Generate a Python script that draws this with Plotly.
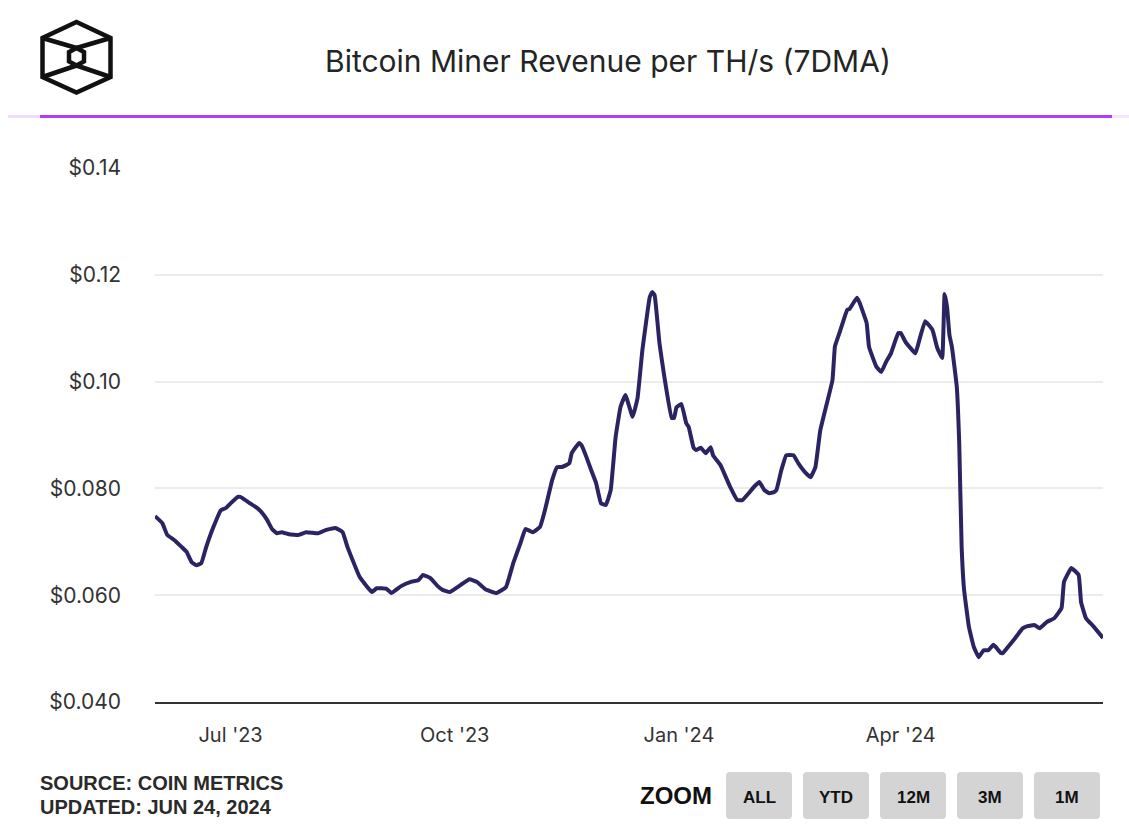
import plotly.graph_objects as go

# ---------------- data ----------------
dates = [
    "2023-05-31", "2023-06-03", "2023-06-05", "2023-06-08", "2023-06-11", "2023-06-13",
    "2023-06-15", "2023-06-17", "2023-06-19", "2023-06-21", "2023-06-24", "2023-06-27",
    "2023-06-29", "2023-07-01", "2023-07-04", "2023-07-05", "2023-07-09", "2023-07-12",
    "2023-07-14", "2023-07-16", "2023-07-18", "2023-07-20", "2023-07-22", "2023-07-25",
    "2023-07-29", "2023-08-01", "2023-08-06", "2023-08-09", "2023-08-13", "2023-08-16",
    "2023-08-18", "2023-08-23", "2023-08-28", "2023-08-30", "2023-09-03", "2023-09-05",
    "2023-09-09", "2023-09-13", "2023-09-16", "2023-09-18", "2023-09-21", "2023-09-24",
    "2023-09-26", "2023-09-29", "2023-10-04", "2023-10-07", "2023-10-10", "2023-10-14",
    "2023-10-18", "2023-10-22", "2023-10-25", "2023-10-28", "2023-10-30", "2023-11-02",
    "2023-11-05", "2023-11-07", "2023-11-10", "2023-11-12", "2023-11-14", "2023-11-17",
    "2023-11-18", "2023-11-21", "2023-11-22", "2023-11-24", "2023-11-26", "2023-11-28",
    "2023-11-30", "2023-12-02", "2023-12-04", "2023-12-06", "2023-12-08", "2023-12-10",
    "2023-12-13", "2023-12-15", "2023-12-17", "2023-12-20", "2023-12-21", "2023-12-22",
    "2023-12-24", "2023-12-26", "2023-12-29", "2023-12-30", "2023-12-31", "2024-01-02",
    "2024-01-04", "2024-01-05", "2024-01-07", "2024-01-08", "2024-01-10", "2024-01-12",
    "2024-01-14", "2024-01-15", "2024-01-18", "2024-01-19", "2024-01-22", "2024-01-25",
    "2024-01-27", "2024-01-30", "2024-02-01", "2024-02-03", "2024-02-05", "2024-02-07",
    "2024-02-09", "2024-02-10", "2024-02-12", "2024-02-14", "2024-02-17", "2024-02-19",
    "2024-02-22", "2024-02-24", "2024-02-26", "2024-02-28", "2024-03-04", "2024-03-05",
    "2024-03-07", "2024-03-10", "2024-03-11", "2024-03-14", "2024-03-15", "2024-03-18",
    "2024-03-19", "2024-03-22", "2024-03-24", "2024-03-26", "2024-03-28", "2024-03-31",
    "2024-04-01", "2024-04-03", "2024-04-07", "2024-04-08", "2024-04-11", "2024-04-14",
    "2024-04-16", "2024-04-18", "2024-04-19", "2024-04-20", "2024-04-21", "2024-04-22",
    "2024-04-24", "2024-04-25", "2024-04-26", "2024-04-27", "2024-04-29", "2024-05-01",
    "2024-05-03", "2024-05-05", "2024-05-07", "2024-05-09", "2024-05-10", "2024-05-12",
    "2024-05-13", "2024-05-15", "2024-05-18", "2024-05-21", "2024-05-23", "2024-05-26",
    "2024-05-28", "2024-05-31", "2024-06-03", "2024-06-06", "2024-06-07", "2024-06-10",
    "2024-06-13", "2024-06-14", "2024-06-16", "2024-06-19", "2024-06-23",
]
revenue = [
    0.0748, 0.0735, 0.0713, 0.0703, 0.0690, 0.0681,
    0.0662, 0.0656, 0.0660, 0.0690, 0.0728, 0.0759,
    0.0763, 0.0772, 0.0784, 0.0784, 0.0772, 0.0763,
    0.0754, 0.0741, 0.0724, 0.0716, 0.0718, 0.0714,
    0.0713, 0.0718, 0.0716, 0.0722, 0.0726, 0.0718,
    0.0690, 0.0634, 0.0606, 0.0613, 0.0612, 0.0604,
    0.0617, 0.0625, 0.0628, 0.0638, 0.0632, 0.0617,
    0.0610, 0.0606, 0.0621, 0.0630, 0.0625, 0.0610,
    0.0604, 0.0615, 0.0660, 0.0698, 0.0724, 0.0718,
    0.0728, 0.0759, 0.0816, 0.0840, 0.0840, 0.0847,
    0.0866, 0.0885, 0.0881, 0.0859, 0.0834, 0.0810,
    0.0772, 0.0769, 0.0797, 0.0896, 0.0952, 0.0975,
    0.0934, 0.0969, 0.1059, 0.1158, 0.1168, 0.1162,
    0.1072, 0.1009, 0.0932, 0.0932, 0.0952, 0.0958,
    0.0922, 0.0915, 0.0876, 0.0872, 0.0876, 0.0866,
    0.0877, 0.0862, 0.0844, 0.0834, 0.0803, 0.0778,
    0.0778, 0.0793, 0.0804, 0.0812, 0.0797, 0.0791,
    0.0793, 0.0797, 0.0834, 0.0862, 0.0862, 0.0847,
    0.0829, 0.0821, 0.0840, 0.0909, 0.1003, 0.1066,
    0.1093, 0.1134, 0.1136, 0.1157, 0.1149, 0.1110,
    0.1065, 0.1028, 0.1018, 0.1037, 0.1053, 0.1091,
    0.1091, 0.1074, 0.1053, 0.1067, 0.1113, 0.1097,
    0.1063, 0.1044, 0.1164, 0.1140, 0.1087, 0.1065,
    0.0990, 0.0885, 0.0690, 0.0610, 0.0540, 0.0503,
    0.0484, 0.0497, 0.0497, 0.0507, 0.0503, 0.0492,
    0.0492, 0.0503, 0.0520, 0.0538, 0.0542, 0.0544,
    0.0538, 0.0550, 0.0557, 0.0576, 0.0625, 0.0651,
    0.0638, 0.0587, 0.0557, 0.0542, 0.0520,
]

y_tick_vals = [0.04, 0.06, 0.08, 0.10, 0.12, 0.14]
y_tick_text = ["$0.040", "$0.060", "$0.080", "$0.10", "$0.12", "$0.14"]
x_tick_vals = ["2023-07-01", "2023-10-01", "2024-01-01", "2024-04-01"]
x_tick_text = ["Jul '23", "Oct '23", "Jan '24", "Apr '24"]
zoom_buttons = ["ALL", "YTD", "12M", "3M", "1M"]

title_text = "Bitcoin Miner Revenue per TH/s (7DMA)"
source_lines = ["SOURCE: COIN METRICS", "UPDATED: JUN 24, 2024"]

# ---------------- layout geometry ----------------
W, H = 1129, 839
L, R, T, B = 155, 1103, 168, 702   # plot area in pixels


def px(x):
    return (x - L) / (R - L)


def py(y):
    return (B - y) / (B - T)


fig = go.Figure()
fig.add_trace(go.Scatter(
    x=dates, y=revenue, mode="lines",
    line=dict(color="#2b2462", width=4, shape="spline", smoothing=0.3),
    hoverinfo="x+y", showlegend=False,
))

shapes = []
annotations = []

# header line (purple with faded ends)
shapes.append(dict(type="line", xref="paper", yref="paper",
                   x0=px(8), x1=px(40), y0=py(116.5), y1=py(116.5),
                   line=dict(color="#f0dcfb", width=3)))
shapes.append(dict(type="line", xref="paper", yref="paper",
                   x0=px(40), x1=px(1112), y0=py(116.5), y1=py(116.5),
                   line=dict(color="#b03cf8", width=3)))
shapes.append(dict(type="line", xref="paper", yref="paper",
                   x0=px(1112), x1=px(1129), y0=py(116.5), y1=py(116.5),
                   line=dict(color="#f6e4fc", width=3)))


# logo: hexagonal cube outline
def path_from(points, close=True):
    s = "M " + " L ".join(f"{px(a):.5f},{py(b):.5f}" for a, b in points)
    return s + (" Z" if close else "")


outer = [(76.5, 22), (110.5, 38), (110.5, 77), (76.5, 92.5), (42.5, 77), (42.5, 38)]
inner = [(76.5, 48), (84, 52), (84, 61.5), (76.5, 65.5), (69, 61.5), (69, 52)]
logo_style = dict(type="path", xref="paper", yref="paper",
                  line=dict(color="#111111", width=4.5))
shapes.append(dict(path=path_from(outer), **logo_style))
shapes.append(dict(path=path_from(inner), **logo_style))
for a, b in [((42.5, 38), (76.5, 48)), ((110.5, 38), (76.5, 48)),
             ((42.5, 77), (76.5, 65.5)), ((110.5, 77), (76.5, 65.5))]:
    shapes.append(dict(path=path_from([a, b], close=False), **logo_style))

# zoom buttons
btn_x = [726, 803, 880, 957, 1034]
btn_w = 66
for x0, lab in zip(btn_x, zoom_buttons):
    x1 = x0 + btn_w
    y0, y1 = 772, 819
    r = 4
    pts = (f"M {px(x0 + r)},{py(y0)} L {px(x1 - r)},{py(y0)} "
           f"Q {px(x1)},{py(y0)} {px(x1)},{py(y0 + r)} "
           f"L {px(x1)},{py(y1 - r)} Q {px(x1)},{py(y1)} {px(x1 - r)},{py(y1)} "
           f"L {px(x0 + r)},{py(y1)} Q {px(x0)},{py(y1)} {px(x0)},{py(y1 - r)} "
           f"L {px(x0)},{py(y0 + r)} Q {px(x0)},{py(y0)} {px(x0 + r)},{py(y0)} Z")
    shapes.append(dict(type="path", xref="paper", yref="paper", path=pts,
                       fillcolor="#d4d4d4", line=dict(width=0)))
    annotations.append(dict(xref="paper", yref="paper", x=px((x0 + x1) / 2), y=py(797),
                            text=f"<b>{lab}</b>", showarrow=False,
                            xanchor="center", yanchor="middle",
                            font=dict(family="Liberation Sans, Arial", size=17, color="#111111")))

annotations.append(dict(xref="paper", yref="paper", x=px(714), y=py(795),
                        text="<b>ZOOM</b>", showarrow=False, xanchor="right", yanchor="middle",
                        font=dict(family="Liberation Sans, Arial", size=24, color="#111111")))

# source text
annotations.append(dict(xref="paper", yref="paper", x=px(38), y=py(782.5),
                        text=f"<b>{source_lines[0]}</b>", showarrow=False,
                        xanchor="left", yanchor="middle",
                        font=dict(family="Liberation Sans, Arial", size=20, color="#2a2a2a")))
annotations.append(dict(xref="paper", yref="paper", x=px(38), y=py(807),
                        text=f"<b>{source_lines[1]}</b>", showarrow=False,
                        xanchor="left", yanchor="middle",
                        font=dict(family="Liberation Sans, Arial", size=20, color="#2a2a2a")))

# title
annotations.append(dict(xref="paper", yref="paper", x=px(608), y=py(61),
                        text=title_text, showarrow=False,
                        xanchor="center", yanchor="middle",
                        font=dict(family="Inter, Open Sans, sans-serif", size=30, color="#242424")))

fig.update_layout(
    width=W, height=H,
    margin=dict(l=L, r=W - R, t=T, b=H - B, pad=0),
    paper_bgcolor="white", plot_bgcolor="white",
    shapes=shapes, annotations=annotations,
    xaxis=dict(
        type="date", range=["2023-05-31", "2024-06-23"],
        tickvals=x_tick_vals, ticktext=x_tick_text,
        showgrid=False, zeroline=False, ticks="",
        showline=True, linecolor="#333333", linewidth=2,
        tickfont=dict(family="Inter, Open Sans, sans-serif", size=20, color="#333333"),
        ticklabelstandoff=14,
    ),
    yaxis=dict(
        range=[0.04, 0.14],
        tickvals=y_tick_vals, ticktext=y_tick_text,
        showgrid=True, gridcolor="#ececec", gridwidth=2,
        zeroline=False, showline=False, ticks="",
        tickfont=dict(family="Inter, Open Sans, sans-serif", size=21, color="#333333"),
        ticklabelstandoff=33,
    ),
)

fig.write_html("out.html", config={"displayModeBar": False},
               post_script="document.body.style.margin='0px';")
